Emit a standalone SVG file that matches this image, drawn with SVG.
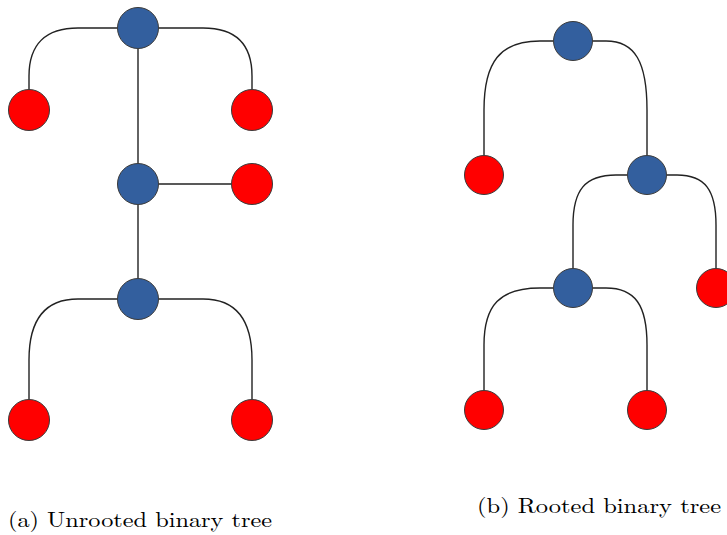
<svg xmlns="http://www.w3.org/2000/svg" width="727" height="535" viewBox="0 0 727 535">
<style>
.e{fill:none;stroke:#222;stroke-width:1.4}
.b{fill:#335F9E;stroke:#3a3a3a;stroke-width:1}
.r{fill:#FF0000;stroke:#3a3a3a;stroke-width:1}
.cap{font-family:"Latin Modern Roman","Liberation Serif",serif;font-size:21px;fill:#000}
</style>
<rect width="727" height="535" fill="#fff"/>
<g id="connectors">
<path class="e" d="M117,28 L78,28 C46,28 29,44 29,76 L29,89"/>
<path class="e" d="M159,28 L203,28 C235,28 252,44 252,76 L252,89"/>
<path class="e" d="M138,49 L138,163"/>
<path class="e" d="M159,184 L231,184"/>
<path class="e" d="M138,205 L138,278"/>
<path class="e" d="M117,299 L78,299 C46,299 29,318 29,360 L29,399"/>
<path class="e" d="M159,299 L203,299 C235,299 252,318 252,360 L252,399"/>
<path class="e" d="M553,41 L540,41 C500,41 484,62 484,110 L484,155"/>
<path class="e" d="M593,41 L606,41 C635,41 647,62 647,110 L647,155"/>
<path class="e" d="M627,175 L616,175 C585,175 573,190 573,225 L573,268"/>
<path class="e" d="M667,175 L677,175 C705,175 716,190 716,225 L716,268"/>
<path class="e" d="M553,288 L540,288 C500,288 484,305 484,345 L484,390"/>
<path class="e" d="M593,288 L606,288 C635,288 647,305 647,345 L647,390"/>
</g>
<g id="a_top"><circle class="b" cx="138" cy="28" r="20.5"/></g>
<g id="a_leaf1"><circle class="r" cx="29" cy="110" r="20.5"/></g>
<g id="a_leaf2"><circle class="r" cx="252" cy="110" r="20.5"/></g>
<g id="a_mid"><circle class="b" cx="138" cy="184" r="20.5"/></g>
<g id="a_leaf3"><circle class="r" cx="252" cy="184" r="20.5"/></g>
<g id="a_low"><circle class="b" cx="138" cy="299" r="20.5"/></g>
<g id="a_leaf4"><circle class="r" cx="29" cy="420" r="20.5"/></g>
<g id="a_leaf5"><circle class="r" cx="252" cy="420" r="20.5"/></g>
<g id="b_root"><circle class="b" cx="573" cy="41" r="19.5"/></g>
<g id="b_leaf1"><circle class="r" cx="484" cy="175" r="19.5"/></g>
<g id="b_int1"><circle class="b" cx="647" cy="175" r="19.5"/></g>
<g id="b_int2"><circle class="b" cx="573" cy="288" r="19.5"/></g>
<g id="b_leaf2"><circle class="r" cx="716" cy="288" r="19.5"/></g>
<g id="b_leaf3"><circle class="r" cx="484" cy="410" r="19.5"/></g>
<g id="b_leaf4"><circle class="r" cx="647" cy="410" r="19.5"/></g>
<text class="cap" x="8" y="527" textLength="264" lengthAdjust="spacingAndGlyphs">(a) Unrooted binary tree</text>
<text class="cap" x="477" y="513" textLength="244" lengthAdjust="spacingAndGlyphs">(b) Rooted binary tree</text>
</svg>
